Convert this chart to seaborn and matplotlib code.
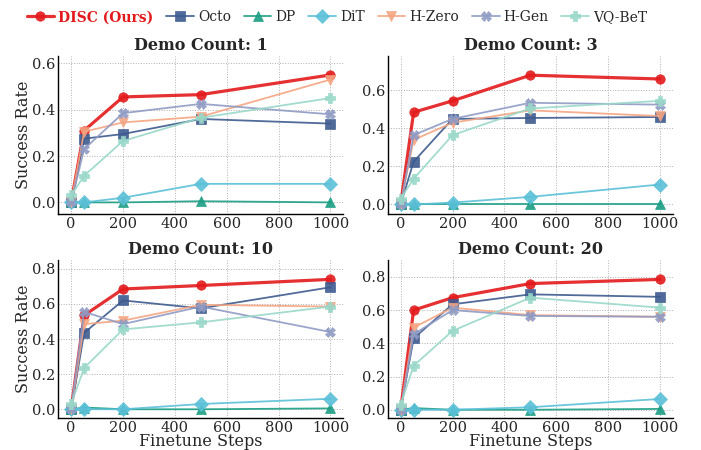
import matplotlib
matplotlib.use("Agg")
import matplotlib.pyplot as plt
import seaborn as sns
import numpy as np

steps = [0, 50, 200, 500, 1000]
demo_counts = [1, 3, 10, 20]
methods = ["DISC (Ours)", "Octo", "DP", "DiT", "H-Zero", "H-Gen", "VQ-BeT"]

d1 = {
    "DISC (Ours)": [0.0, 0.31, 0.455, 0.465, 0.55],
    "Octo": [0.0, 0.275, 0.295, 0.36, 0.34],
    "DP": [0.0, 0.0, 0.0, 0.005, 0.0],
    "DiT": [0.0, 0.0, 0.02, 0.08, 0.08],
    "H-Zero": [0.0, 0.305, 0.345, 0.37, 0.53],
    "H-Gen": [0.0, 0.23, 0.385, 0.425, 0.38],
    "VQ-BeT": [0.03, 0.115, 0.265, 0.365, 0.45],
}
d3 = {
    "DISC (Ours)": [0.0, 0.485, 0.545, 0.68, 0.66],
    "Octo": [0.0, 0.225, 0.45, 0.455, 0.46],
    "DP": [0.0, 0.0, 0.0, 0.0, 0.0],
    "DiT": [0.0, 0.0, 0.01, 0.04, 0.105],
    "H-Zero": [0.0, 0.34, 0.43, 0.495, 0.465],
    "H-Gen": [0.0, 0.365, 0.45, 0.535, 0.525],
    "VQ-BeT": [0.03, 0.135, 0.365, 0.505, 0.545],
}
d10 = {
    "DISC (Ours)": [0.0, 0.535, 0.685, 0.705, 0.74],
    "Octo": [0.0, 0.435, 0.62, 0.575, 0.695],
    "DP": [0.0, 0.01, 0.0, 0.0, 0.005],
    "DiT": [0.0, 0.0, 0.0, 0.03, 0.06],
    "H-Zero": [0.0, 0.485, 0.505, 0.595, 0.585],
    "H-Gen": [0.0, 0.555, 0.485, 0.585, 0.44],
    "VQ-BeT": [0.03, 0.235, 0.455, 0.495, 0.585],
}
d20 = {
    "DISC (Ours)": [0.0, 0.6, 0.675, 0.76, 0.785],
    "Octo": [0.0, 0.43, 0.635, 0.695, 0.68],
    "DP": [0.0, 0.01, 0.0, 0.0, 0.005],
    "DiT": [0.0, 0.0, 0.0, 0.015, 0.065],
    "H-Zero": [0.0, 0.495, 0.615, 0.57, 0.56],
    "H-Gen": [0.0, 0.455, 0.6, 0.565, 0.56],
    "VQ-BeT": [0.03, 0.265, 0.475, 0.675, 0.615],
}
all_data = [d1, d3, d10, d20]

colors = {
    "DISC (Ours)": "#e31a1c",
    "Octo": "#3d5a8f",
    "DP": "#1a9e84",
    "DiT": "#5bc0d8",
    "H-Zero": "#f4a582",
    "H-Gen": "#8f9bc4",
    "VQ-BeT": "#99d8c9",
}
markers = {
    "DISC (Ours)": "o", "Octo": "s", "DP": "^", "DiT": "D",
    "H-Zero": "v", "H-Gen": "X", "VQ-BeT": "P",
}

sns.set_style("white")
plt.rcParams["font.family"] = ["DejaVu Serif"]

fig, axes = plt.subplots(2, 2, figsize=(7.01, 4.5), dpi=100)
plt.subplots_adjust(left=0.083, right=0.96, top=0.876, bottom=0.071, wspace=0.155, hspace=0.29)

for ax, dc, data in zip(axes.flat, demo_counts, all_data):
    for m in methods:
        lw = 2.3 if m == "DISC (Ours)" else 1.3
        ms = 6.8
        sns.lineplot(x=steps, y=data[m], ax=ax, color=colors[m], marker=markers[m],
                     linewidth=lw, markersize=ms, markeredgewidth=0.5,
                     markeredgecolor=colors[m], alpha=0.9, label=m, legend=False)
    ymax = max(max(v) for v in data.values())
    ax.set_ylim(-0.05, ymax * 1.15)
    ax.set_xlim(-50, 1050)
    ax.set_title(f"Demo Count: {dc}", fontsize=11.5, fontweight="bold", pad=4)
    ax.grid(True, linestyle=":", color="#b0b0b0", linewidth=0.7)
    ax.set_axisbelow(True)
    for s in ["top", "right"]:
        ax.spines[s].set_visible(False)
    for s in ["left", "bottom"]:
        ax.spines[s].set_color("black")
        ax.spines[s].set_linewidth(1.0)
    ax.tick_params(axis="both", labelsize=10.5, length=0, pad=2)
    ax.set_xticks([0, 200, 400, 600, 800, 1000])
    ax.set_ylabel("")
    ax.set_xlabel("")

axes[0, 0].set_ylabel("Success Rate", fontsize=11.5, labelpad=0)
axes[1, 0].set_ylabel("Success Rate", fontsize=11.5, labelpad=0)
axes[1, 0].set_xlabel("Finetune Steps", fontsize=11.5, labelpad=-1)
axes[1, 1].set_xlabel("Finetune Steps", fontsize=11.5, labelpad=-1)

handles, labels = axes[0, 0].get_legend_handles_labels()
leg = fig.legend(handles, labels, loc="upper left", bbox_to_anchor=(0.02, 1.005), ncol=7,
                 frameon=False, fontsize=10, handlelength=2.0, columnspacing=0.9,
                 handletextpad=0.3)
for t in leg.get_texts():
    if t.get_text() == "DISC (Ours)":
        t.set_color("#e31a1c")
        t.set_fontweight("bold")

fig.savefig("out.png", dpi=100)
